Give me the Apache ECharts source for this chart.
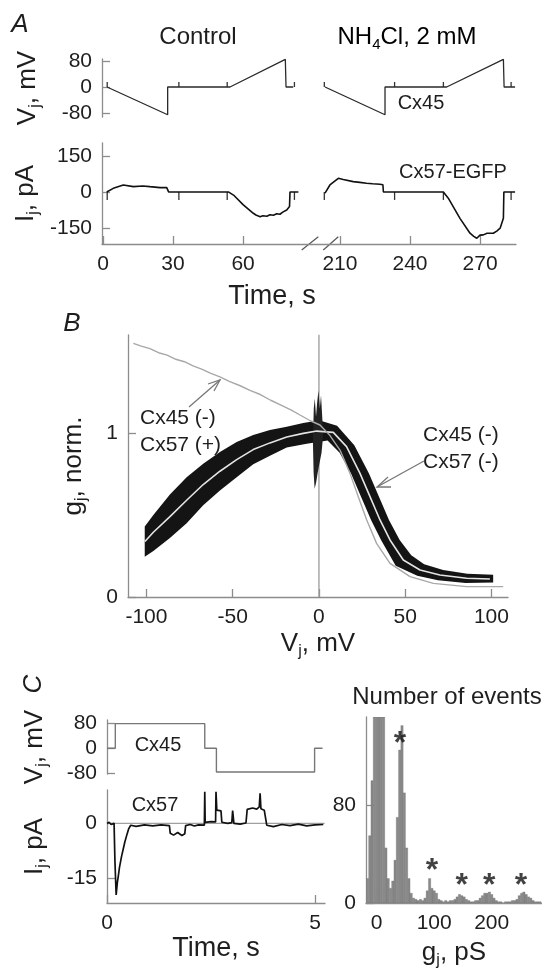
<!DOCTYPE html>
<html><head><meta charset="utf-8">
<script src="https://cdn.jsdelivr.net/npm/echarts@6/dist/echarts.min.js"></script>
<style>html,body{margin:0;padding:0;background:#fff}#c{width:542px;height:968px}</style>
</head><body><div id="c"></div>
<script>
// ---------- Panel A (time in s) ----------
const aVjCtrl = [[1.7,0],[27.7,-85],[27.7,0],[54.4,0],[78.1,85],[78.4,0],[81.5,0]];
const aVjNh   = [[203.6,0],[229.3,-85],[229.3,0],[255.7,0],[280.0,85],[280.3,0],[285.0,0]];
const aIjCtrl = [[1.6,0],[4.4,15],[8.7,29],[13,22],[17,25],[20.1,22],[24.4,18],[27.3,18],[27.9,15],[28.1,0],[53.7,0],[55.9,-13],[60.1,-54],[64.4,-89],[65.5,-96],[67.3,-103],[68.5,-99],[70.2,-101],[71.5,-95],[73,-97],[74.4,-91],[75.8,-93],[77,-84],[78.7,-75],[79.9,-61],[80.1,0],[83.7,0]];
const aIjNh   = [[203.6,-5],[205.7,29],[209.3,57],[211.4,52],[215.7,43],[218.5,40],[221.4,36],[224,34],[227.1,32],[228.4,30],[228.6,0],[254.3,0],[256.4,-26],[261.4,-110],[265.7,-172],[267.3,-185],[268.6,-193],[270,-180],[271.4,-179],[273,-172],[275.7,-172],[277.3,-162],[278.6,-151],[280,-110],[280.2,0],[285,0]];
const aMarkCtrl = [1.8, 32.5, 53.2, 82];
const aMarkNh   = [203.3, 233.4, 254.3, 283.3];
const aVjTicks = [-80, 0, 80];
const aIjTicks = [-150, 0, 150];
const aTimeTicksCtrl = [0, 30, 60];
const aTimeTicksNh = [210, 240, 270];

// ---------- Panel B (Vj mV, gj norm.) ----------
const bGray = [[-107.6,1.547],[-103,1.53],[-98,1.515],[-93,1.49],[-88,1.475],[-83,1.45],[-78,1.435],[-73,1.41],[-68,1.39],[-63,1.365],[-57.4,1.343],[-52,1.315],[-46,1.29],[-40,1.26],[-34,1.235],[-28,1.2],[-22,1.17],[-16,1.14],[-11,1.11],[-5,1.075],[0.6,1.049],[6,0.99],[12.2,0.896],[18,0.754],[22.8,0.612],[27.7,0.47],[33.4,0.327],[41.2,0.205],[52.8,0.124],[66.3,0.083],[85.6,0.063],[106.8,0.063]];
const bBand = [[-101,0.43],[-96,0.5],[-86.4,0.625],[-76.7,0.73],[-67.1,0.812],[-57.4,0.884],[-47.7,0.945],[-38.1,0.988],[-28.4,1.018],[-18.7,1.039],[-9.1,1.062],[-1.3,1.075],[1,1.075],[10.5,1.045],[20.5,0.925],[29,0.754],[34.8,0.612],[40.6,0.47],[46.8,0.348],[53.5,0.255],[61,0.2],[72,0.165],[86,0.142],[101,0.135],[101,0.088],[85,0.086],[69,0.102],[57,0.13],[44.5,0.19],[36,0.348],[30.2,0.47],[24.4,0.612],[18.6,0.754],[12,0.88],[5,0.955],[-7.1,0.935],[-18.7,0.912],[-28.4,0.862],[-38.1,0.81],[-47.7,0.73],[-57.4,0.65],[-67.1,0.56],[-76.7,0.45],[-86.4,0.36],[-96,0.28],[-101,0.245]];
const bSpike = [[-3.5,0.95],[-3,1.15],[-2.4,1.21],[-1.7,1.1],[-1,1.19],[-0.3,1.26],[0.5,1.15],[1.2,1.23],[2,1.08],[2.4,0.98],[1.5,0.88],[0.4,0.82],[-0.7,0.76],[-1.6,0.7],[-2.5,0.66],[-3.1,0.76]];
const bFit = [[-100.9,0.338],[-96,0.395],[-86.4,0.49],[-76.7,0.59],[-67.1,0.686],[-57.4,0.767],[-47.7,0.838],[-38.1,0.899],[-28.4,0.94],[-18.7,0.976],[-9.1,0.998],[-1.3,1.012],[8.3,1.004],[16,0.917],[23.8,0.754],[29.6,0.612],[35.4,0.47],[41.2,0.348],[48.9,0.226],[58.6,0.165],[70.1,0.134],[85.6,0.114],[99.1,0.11]];
const bZero = [[0,0],[0,1.6]];
const bXTicks = [-100, -50, 0, 50, 100];
const bYTicks = [0, 1];

// ---------- Panel C left (time s) ----------
const cVj = [[0,0],[0.2,0],[0.2,78],[2.35,78],[2.35,0],[2.63,0],[2.63,-75],[4.99,-75],[4.99,0],[5.18,0]];
const cIj = [[0,0],[0.05,0.3],[0.1,-0.3],[0.17,0],[0.19,-10],[0.22,-19.5],[0.25,-16],[0.27,-14.5],[0.3,-12],[0.35,-9],[0.4,-6.5],[0.43,-5],[0.48,-3],[0.52,-1.5],[0.57,-0.5],[0.7,-0.8],[0.9,-0.4],[1.1,-0.7],[1.3,-0.4],[1.5,-0.6],[1.52,-2.7],[1.6,-3.2],[1.7,-2.5],[1.8,-3.3],[1.87,-2.8],[1.89,-0.6],[2.0,-0.3],[2.1,-0.7],[2.2,-0.4],[2.34,-0.5],[2.35,8.6],[2.36,0.3],[2.5,0.5],[2.61,0.4],[2.62,8.6],[2.64,3.6],[2.74,3.4],[2.76,0.3],[2.9,0],[3.0,0.2],[3.02,3.5],[3.05,0],[3.2,-0.2],[3.34,0.1],[3.37,3.8],[3.5,4.2],[3.6,3.9],[3.66,4.5],[3.68,8.2],[3.7,4],[3.78,3.6],[3.84,-0.5],[4.0,-0.9],[4.2,-0.3],[4.4,-0.6],[4.6,-0.2],[4.8,-0.7],[5.0,-0.4],[5.2,-0.3]];
const cIjZero = [[0,0],[5.23,0]];
const cVjTicks = [-80, 0, 80];
const cIjTicks = [-15, 0];
const cTimeTicks = [0, 5];

// ---------- Panel C right: histogram (gj pS, events) ----------
const histBinWidth = 4;
const hist = [[-16,20],[-12,55],[-8,100],[-4,200],[0,300],[4,300],[8,250],[12,160],[16,45],[20,20],[24,12],[28,18],[32,35],[36,70],[40,125],[44,145],[48,90],[52,45],[56,20],[60,8],[64,4],[68,3],[72,2],[76,3],[80,2],[84,4],[88,10],[92,20],[96,12],[100,10],[104,8],[108,3],[112,2],[116,1],[120,2],[124,1],[128,2],[132,2],[136,3],[140,5],[144,7],[148,6],[152,5],[156,3],[160,2],[164,1],[168,1],[172,2],[176,2],[180,4],[184,6],[188,8],[192,8],[196,9],[200,7],[204,4],[208,2],[212,1],[216,1],[220,0],[224,1],[228,1],[232,1],[236,2],[240,2],[244,3],[248,6],[252,8],[256,9],[260,7],[264,5],[268,4],[272,2],[276,1],[280,1],[284,1]];
const histStars = [[40.5,137],[96,33.5],[148,21],[195.5,21],[251,21]];
const hXTicks = [0, 100, 200];
const hYTicks = [0, 80];

// ---------- styling / construction ----------
const AX = '#8c8c8c', TX = '#1e1e1e', FONT = 'Liberation Sans, Arial, sans-serif';
const rich = {
  a: {fontSize: 26, fontFamily: FONT, color: TX, lineHeight: 32},
  s: {fontSize: 16, fontFamily: FONT, color: TX, lineHeight: 17, verticalAlign: 'bottom'}
};
function axis(grid, min, max, ticks, extra) {
  const has = !!ticks;
  return Object.assign({
    type: 'value', gridIndex: grid, min: min, max: max,
    axisLine: {show: true, onZero: false, lineStyle: {color: AX, width: 1.3}},
    axisTick: has ? {show: true, inside: true, length: 8, customValues: ticks, lineStyle: {color: AX, width: 1.3}} : {show: false},
    axisLabel: has ? {show: true, customValues: ticks, color: TX, fontSize: 21, fontFamily: FONT, margin: 10} : {show: false},
    splitLine: {show: false}
  }, extra || {});
}
function hidden(grid, min, max) {
  return {type: 'value', gridIndex: grid, min: min, max: max, show: false, splitLine: {show: false}};
}
function line(xi, data, color, width, z) {
  return {type: 'line', xAxisIndex: xi, yAxisIndex: xi, data: data, symbol: 'none', animation: false,
    lineStyle: {color: color, width: width}, z: z || 2, silent: true};
}
function markers(xi, times, len) {
  return {type: 'custom', xAxisIndex: xi, yAxisIndex: xi, data: times.map(t => [t, 0]), animation: false, silent: true,
    renderItem: (p, api) => {
      const a = api.coord([api.value(0), 0]);
      return {type: 'line', shape: {x1: a[0], y1: a[1], x2: a[0], y2: a[1] - len}, style: {stroke: '#333', lineWidth: 1.3}};
    }};
}
function polygon(xi, pts, fill) {
  return {type: 'custom', xAxisIndex: xi, yAxisIndex: xi, data: [0], animation: false, silent: true,
    renderItem: (p, api) => ({type: 'polygon', shape: {points: pts.map(q => api.coord(q))}, style: {fill: fill}})};
}
const nm = (o) => Object.assign({nameLocation: 'middle', nameTextStyle: {rich: rich}}, o);

const option = {
  animation: false,
  backgroundColor: '#fff',
  textStyle: {fontFamily: FONT},
  grid: [
    {left: 102, top: 59, width: 209, height: 58},
    {left: 311, top: 59, width: 205, height: 58},
    {left: 102, top: 143, width: 209, height: 101},
    {left: 311, top: 143, width: 205, height: 101},
    {left: 128, top: 335, width: 380, height: 262},
    {left: 107, top: 720, width: 218, height: 54},
    {left: 107, top: 790, width: 218, height: 113},
    {left: 366, top: 717, width: 176, height: 186}
  ].map(g => Object.assign({containLabel: false, outerBoundsMode: 'none'}, g)),
  xAxis: [
    hidden(0, -0.43, 89.1),
    hidden(1, 197.6, 285.4),
    axis(2, -0.43, 89.1, aTimeTicksCtrl),
    axis(3, 197.6, 285.4, aTimeTicksNh),
    axis(4, -110.7, 109.6, bXTicks, nm({name: '{a|V}{s|j}{a|, mV}', nameGap: 31})),
    hidden(5, 0, 5.24),
    axis(6, 0, 5.24, cTimeTicks, {name: 'Time, s', nameLocation: 'middle', nameGap: 31, nameTextStyle: {fontSize: 27, color: TX, fontFamily: FONT}}),
    axis(7, -18.6, 287.5, hXTicks, nm({name: '{a|g}{s|j}{a|, pS}', nameGap: 34}))
  ],
  yAxis: [
    axis(0, -92, 86, aVjTicks, nm({name: '{a|V}{s|j}{a|, mV}', nameGap: 58, nameRotate: 90})),
    hidden(1, -92, 86),
    axis(2, -217, 204, aIjTicks, nm({name: '{a|I}{s|j}{a|, pA}', nameGap: 60, nameRotate: 90})),
    hidden(3, -217, 204),
    axis(4, 0, 1.598, bYTicks, nm({name: '{a|g}{s|j}{a|, norm.}', nameGap: 38, nameRotate: 90})),
    axis(5, -81.5, 89.5, cVjTicks, nm({name: '{a|V}{s|j}{a|, mV}', nameGap: 56, nameRotate: 90})),
    axis(6, -21.7, 9.1, cIjTicks, nm({name: '{a|I}{s|j}{a|, pA}', nameGap: 56, nameRotate: 90})),
    axis(7, 0, 152, hYTicks)
  ],
  series: [
    line(0, aVjCtrl, '#2a2a2a', 1.3),
    line(1, aVjNh, '#2a2a2a', 1.3),
    line(2, aIjCtrl, '#111', 1.6),
    line(3, aIjNh, '#111', 1.6),
    markers(0, aMarkCtrl, 5),
    markers(1, aMarkNh, 5),
    markers(2, aMarkCtrl, -8),
    markers(3, aMarkNh, -8),
    line(4, bZero, '#9a9a9a', 1.3, 1),
    polygon(4, bBand, '#141414'),
    polygon(4, bSpike, '#222'),
    line(4, bFit, '#e4e4e4', 1.6, 4),
    line(4, bGray, '#a8a8a8', 1.4, 5),
    line(5, cVj, '#777', 1.4),
    line(6, cIjZero, '#a0a0a0', 1.1, 1),
    line(6, cIj, '#111', 1.7, 3),
    {type: 'custom', xAxisIndex: 7, yAxisIndex: 7, data: hist, animation: false, silent: true, clip: true,
      renderItem: (p, api) => {
        const x = api.value(0), y = api.value(1);
        const p0 = api.coord([x - histBinWidth / 2, 0]);
        const p1 = api.coord([x + histBinWidth / 2, y]);
        const r = echarts.graphic.clipRectByRect({x: p0[0], y: p1[1], width: p1[0] - p0[0], height: p0[1] - p1[1]},
          {x: p.coordSys.x, y: p.coordSys.y, width: p.coordSys.width, height: p.coordSys.height});
        return r ? {type: 'rect', shape: r, style: {fill: '#8a8a8a', stroke: '#6a6a6a', lineWidth: 0.3}} : null;
      }},
    {type: 'scatter', xAxisIndex: 7, yAxisIndex: 7, data: histStars, symbolSize: 2, itemStyle: {color: 'rgba(255,255,255,0)'}, animation: false, silent: true, z: 10,
      label: {show: true, formatter: '*', position: 'inside', fontSize: 32, fontWeight: 'bold', color: '#111', fontFamily: FONT, offset: [0, 9]}}
  ],
  graphic: [
    {type: 'text', x: 20, y: 25, style: {text: 'A', font: 'italic 26px ' + FONT, fill: TX, align: 'center', verticalAlign: 'middle'}},
    {type: 'text', x: 198, y: 37, style: {text: 'Control', font: '24px ' + FONT, fill: TX, align: 'center', verticalAlign: 'middle'}},
    {type: 'text', x: 407, y: 37, style: {text: '{b|NH}{t|4}{b|Cl, 2 mM}', align: 'center', verticalAlign: 'middle',
      rich: {b: {fontSize: 24, fontFamily: FONT, color: TX, lineHeight: 30}, t: {fontSize: 15, fontFamily: FONT, color: TX, lineHeight: 16, verticalAlign: 'bottom'}}}},
    {type: 'text', x: 421, y: 103, style: {text: 'Cx45', font: '20px ' + FONT, fill: TX, align: 'center', verticalAlign: 'middle'}},
    {type: 'text', x: 453, y: 172, style: {text: 'Cx57-EGFP', font: '20px ' + FONT, fill: TX, align: 'center', verticalAlign: 'middle'}},
    {type: 'line', shape: {x1: 301.7, y1: 250, x2: 318.3, y2: 236.7}, style: {stroke: '#555', lineWidth: 1.2}},
    {type: 'line', shape: {x1: 323.3, y1: 250, x2: 338.3, y2: 236.7}, style: {stroke: '#555', lineWidth: 1.2}},
    {type: 'text', x: 272, y: 297, style: {text: 'Time, s', font: '27px ' + FONT, fill: TX, align: 'center', verticalAlign: 'middle'}},
    {type: 'text', x: 72, y: 324, style: {text: 'B', font: 'italic 26px ' + FONT, fill: TX, align: 'center', verticalAlign: 'middle'}},
    {type: 'text', x: 140, y: 418, style: {text: 'Cx45 (-)', font: '21px ' + FONT, fill: TX, align: 'left', verticalAlign: 'middle'}},
    {type: 'text', x: 140, y: 445, style: {text: 'Cx57 (+)', font: '21px ' + FONT, fill: TX, align: 'left', verticalAlign: 'middle'}},
    {type: 'polyline', shape: {points: [[189, 407], [220, 380]]}, style: {stroke: '#777', lineWidth: 1.3, fill: null}},
    {type: 'polyline', shape: {points: [[208, 384], [220, 380], [214, 391]]}, style: {stroke: '#777', lineWidth: 1.3, fill: null}},
    {type: 'text', x: 423, y: 435, style: {text: 'Cx45 (-)', font: '21px ' + FONT, fill: TX, align: 'left', verticalAlign: 'middle'}},
    {type: 'text', x: 423, y: 462, style: {text: 'Cx57 (-)', font: '21px ' + FONT, fill: TX, align: 'left', verticalAlign: 'middle'}},
    {type: 'polyline', shape: {points: [[424, 461], [377, 487]]}, style: {stroke: '#777', lineWidth: 1.3, fill: null}},
    {type: 'polyline', shape: {points: [[388, 477], [377, 487], [391, 487]]}, style: {stroke: '#777', lineWidth: 1.3, fill: null}},
    {type: 'text', x: 34, y: 684, rotation: Math.PI / 2, style: {text: 'C', font: 'italic 26px ' + FONT, fill: TX, align: 'center', verticalAlign: 'middle'}},
    {type: 'text', x: 158, y: 745, style: {text: 'Cx45', font: '20px ' + FONT, fill: TX, align: 'center', verticalAlign: 'middle'}},
    {type: 'text', x: 155, y: 805, style: {text: 'Cx57', font: '20px ' + FONT, fill: TX, align: 'center', verticalAlign: 'middle'}},
    {type: 'text', x: 447, y: 697, style: {text: 'Number of events', font: '24px ' + FONT, fill: TX, align: 'center', verticalAlign: 'middle'}}
  ]
};
const chart = echarts.init(document.getElementById('c'), null, {renderer: 'canvas'});
chart.setOption(option);
</script>
</body></html>
